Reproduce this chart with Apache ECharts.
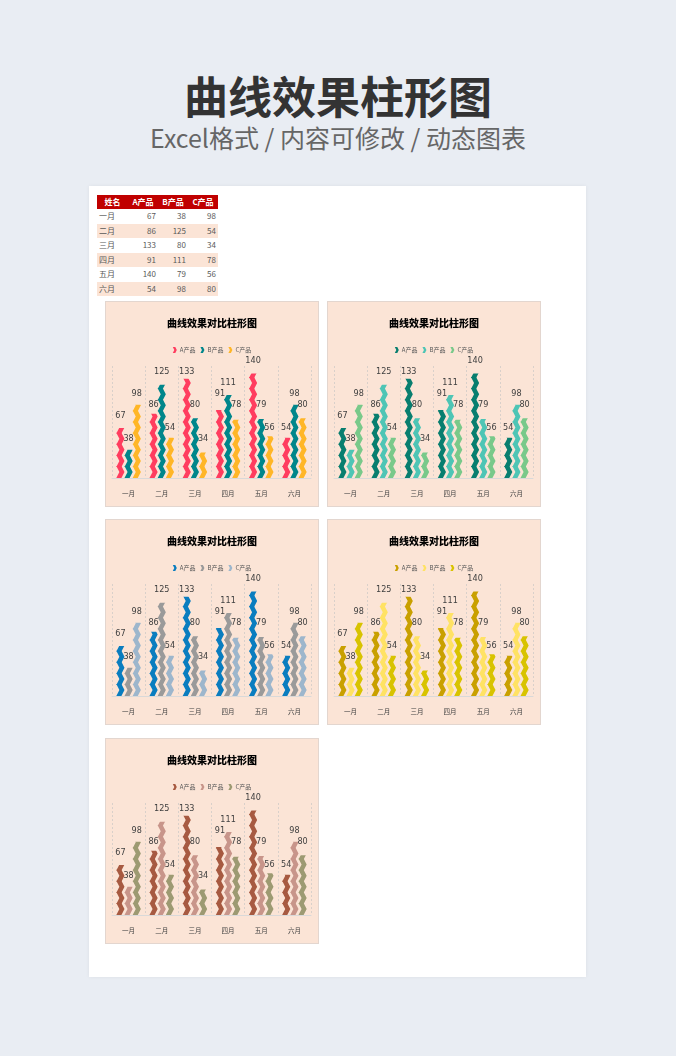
<!DOCTYPE html>
<html>
<head>
<meta charset="utf-8">
<script src="https://cdn.jsdelivr.net/npm/echarts@6/dist/echarts.min.js"></script>
<style>
html,body{margin:0;padding:0;}
body{width:676px;height:1056px;background:#e9edf3;position:relative;overflow:hidden;font-family:"Noto Sans CJK SC","Noto Sans",sans-serif;}
#h1{position:absolute;left:0;width:676px;top:66px;text-align:center;font-size:44px;font-weight:bold;color:#333;line-height:58px;}
#h2{position:absolute;left:0;width:676px;top:120px;text-align:center;font-size:25px;color:#666;line-height:34px;}
#card{position:absolute;left:89px;top:186px;width:497px;height:791px;background:#fff;box-shadow:0 0 4px rgba(0,0,0,0.06);}
#tbl{position:absolute;left:97px;top:195px;border-collapse:collapse;font-size:8px;color:#595959;}
#tbl td{padding:0 2px;height:14.5px;line-height:14px;box-sizing:border-box;}
#tbl tr.hd td{background:#c00000;color:#fff;font-weight:bold;height:13.5px;text-align:center;}
#tbl tr.alt td{background:#fbe4d6;}
.panel{position:absolute;width:214px;height:206px;background:#fbe4d6;border:1px solid #e3d6cf;box-sizing:border-box;}
</style>
</head>
<body>
<div id="h1">曲线效果柱形图</div>
<div id="h2">Excel格式 / 内容可修改 / 动态图表</div>
<div id="card"></div>
<table id="tbl"></table>
<div class="panel" id="c1" style="left:105px;top:301px;"></div>
<div class="panel" id="c2" style="left:327px;top:301px;"></div>
<div class="panel" id="c3" style="left:105px;top:519px;"></div>
<div class="panel" id="c4" style="left:327px;top:519px;"></div>
<div class="panel" id="c5" style="left:105px;top:738px;"></div>
<script>
// ---- data ----
const months = ['一月','二月','三月','四月','五月','六月'];
const headers = ['姓名','A产品','B产品','C产品'];
const seriesNames = ['A产品','B产品','C产品'];
const valuesA = [67, 86, 133, 91, 140, 54];
const valuesB = [38, 125, 80, 111, 79, 98];
const valuesC = [98, 54, 34, 78, 56, 80];
const chartTitle = '曲线效果对比柱形图';
const palette1 = ['#ff3d5f','#00868b','#ffb627'];
const palette2 = ['#087e6f','#4ec5b5','#79c98a'];
const palette3 = ['#0a7dbf','#9a9a9a','#9db6cc'];
const palette4 = ['#c9a000','#ffe264','#d8c300'];
const palette5 = ['#a75a41','#c8958a','#9d9a72'];

// ---- table ----
const tbl = document.getElementById('tbl');
const widths = [31,30,30,30];
let html = '<tr class="hd">' + headers.map((h,i)=>'<td style="width:'+widths[i]+'px">'+h+'</td>').join('') + '</tr>';
months.forEach((m,i)=>{
  html += '<tr class="'+(i%2===1?'alt':'')+'"><td style="text-align:left">'+m+'</td>' +
    [valuesA[i],valuesB[i],valuesC[i]].map(v=>'<td style="text-align:right">'+v+'</td>').join('') + '</tr>';
});
tbl.innerHTML = html;

// ---- charts ----
const zig = 'path://M0,0 L5,0 L8,6 L5,12 L0,12 L3,6 Z';
const allValues = [valuesA, valuesB, valuesC];

function makeChart(id, palette){
  const chart = echarts.init(document.getElementById(id), null, {renderer:'canvas'});
  chart.setOption({
    backgroundColor:'transparent',
    animation:false,
    title:{text:chartTitle, left:'center', top:11,
      textStyle:{fontSize:10, fontWeight:900, color:'#000', fontFamily:'"Noto Sans CJK SC"'}},
    legend:{top:40, left:'center', itemWidth:4, itemHeight:7, itemGap:5, icon:zig,
      textStyle:{fontSize:6, color:'#595959', fontFamily:'"Noto Sans CJK SC"', padding:[0,0,0,-2]},
      data:seriesNames},
    grid:{left:6, right:7, top:64, bottom:28},
    xAxis:{type:'category', data:months,
      axisLine:{lineStyle:{color:'#d9d9d9'}},
      axisTick:{show:false},
      axisLabel:{fontSize:6.5, color:'#404040', margin:12, fontFamily:'"Noto Sans CJK SC"'},
      splitLine:{show:true, lineStyle:{color:'#d9d0ca', type:[2,2], width:1}}},
    yAxis:{type:'value', min:0, max:150, show:false, splitLine:{show:false}},
    series: seriesNames.map((n,k)=>({
      type:'pictorialBar', name:n, data:allValues[k],
      symbol:zig, symbolRepeat:true, symbolClip:true, symbolSize:['100%',12], symbolMargin:0,
      barGap:'0%', barCategoryGap:'26%',
      itemStyle:{color:palette[k]},
      label:{show:true, position:'top', distance:1, fontSize:9, color:'#404040', fontFamily:'"Liberation Sans Narrow","DejaVu Sans Condensed",sans-serif'}
    }))
  });
}
makeChart('c1', palette1);
makeChart('c2', palette2);
makeChart('c3', palette3);
makeChart('c4', palette4);
makeChart('c5', palette5);
</script>
</body>
</html>
